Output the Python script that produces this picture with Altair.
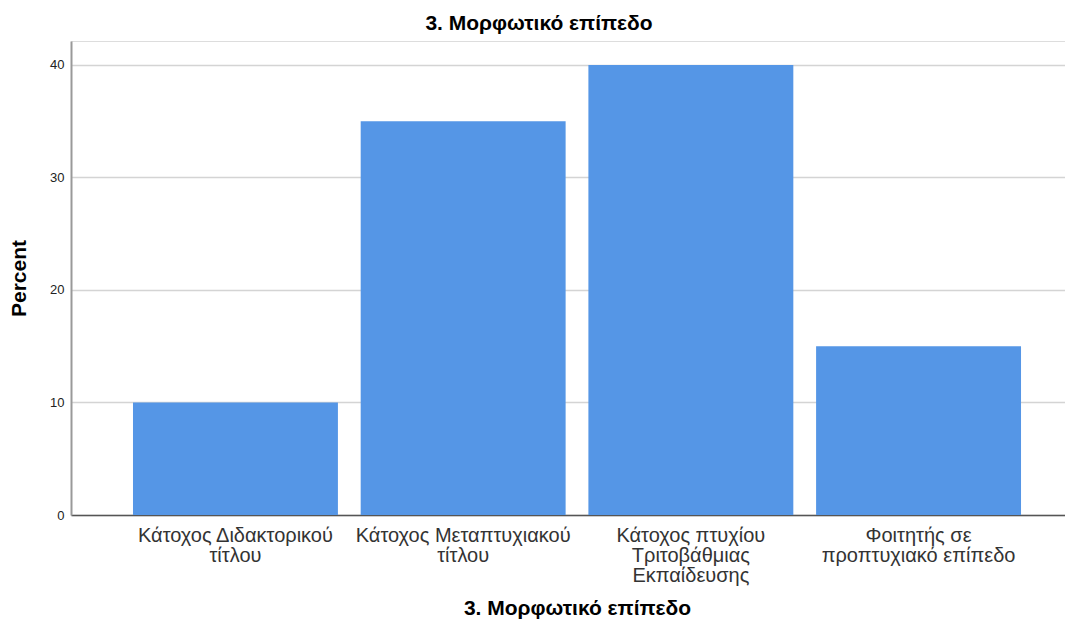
import altair as alt
import pandas as pd

categories = [
    "Κάτοχος Διδακτορικού\nτίτλου",
    "Κάτοχος Μεταπτυχιακού\nτίτλου",
    "Κάτοχος πτυχίου\nΤριτοβάθμιας\nΕκπαίδευσης",
    "Φοιτητής σε\nπροπτυχιακό επίπεδο",
]
percent = [10.0, 35.0, 40.0, 15.0]
y_ticks = [0, 10, 20, 30, 40]
title_text = "3. Μορφωτικό επίπεδο"

df = pd.DataFrame({"cat": categories, "pct": percent})

FONT = "Liberation Sans"

chart = alt.Chart(df).mark_bar(color="#5596e6").encode(
    x=alt.X(
        "cat:N",
        sort=categories,
        title=title_text,
        scale=alt.Scale(paddingInner=0.1, paddingOuter=0.2327, align=0.585),
        axis=alt.Axis(
            labelAngle=0,
            labelExpr="split(datum.label, '\\n')",
            labelFont=FONT,
            labelFontSize=20,
            labelColor="#333333",
            labelLineHeight=20,
            labelPadding=10,
            labelBaseline="top",
            ticks=False,
            domainColor="#555555",
            domainWidth=1.5,
            titleFont=FONT,
            titleFontSize=21,
            titleFontWeight="bold",
            titleColor="#000000",
            titlePadding=12,
            titleX=506,
            labelLimit=300,
            grid=False,
        ),
    ),
    y=alt.Y(
        "pct:Q",
        title="Percent",
        scale=alt.Scale(domain=[0, 42.13], nice=False),
        axis=alt.Axis(
            values=y_ticks,
            ticks=False,
            labelFont=FONT,
            labelFontSize=13,
            labelColor="#222222",
            labelPadding=7,
            domainColor="#999999",
            domainWidth=2,
            grid=True,
            gridColor="#d4d4d4",
            gridWidth=1.5,
            titleFont=FONT,
            titleFontSize=21,
            titleFontWeight="bold",
            titleColor="#000000",
            titlePadding=20,
        ),
    ),
).properties(
    width=994,
    height=474,
    title=alt.TitleParams(
        text=title_text,
        font=FONT,
        fontSize=21,
        fontWeight="bold",
        color="#000000",
        anchor="middle",
        dx=-29,
        offset=7,
    ),
    padding={"left": 63, "top": 33, "right": 0, "bottom": 107},
    autosize=alt.AutoSizeParams(type="none"),
).configure_view(stroke=None).configure(background="white")

chart.save("out.html", embed_options={"renderer": "svg", "actions": False})
